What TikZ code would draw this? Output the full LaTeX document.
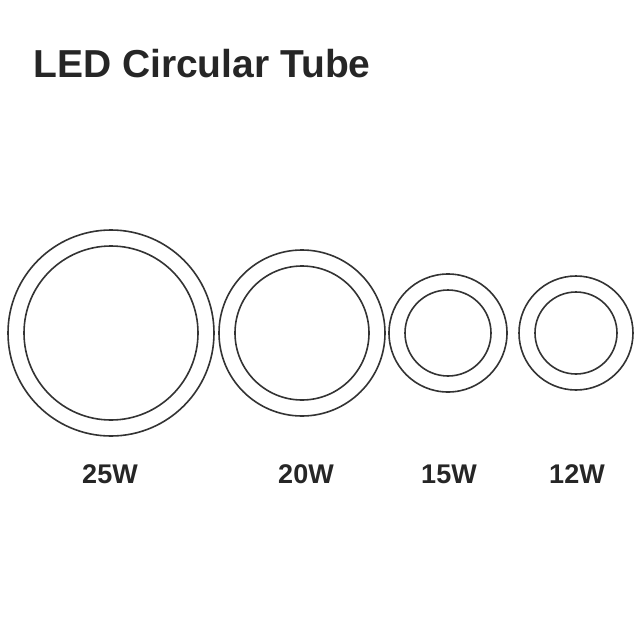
\documentclass[tikz,border=0pt]{standalone}
\usepackage{fontspec}
\setmainfont{Liberation Sans}
\begin{document}
\begin{tikzpicture}[x=1pt,y=-1pt,
  ring/.style={draw=black!80, line width=1.6pt},
  lbl/.style={font=\bfseries\fontsize{27}{30}\selectfont, text=black!85, inner sep=0pt}]
\useasboundingbox (0,0) rectangle (640,640);
\node[anchor=west, inner sep=0pt, font=\bfseries\fontsize{39}{44}\selectfont, text=black!85] (title) at (33,64) {LED Circular Tube};
\foreach \n/\x/\R/\r in {a/111/103/87, b/302/83/67, c/448/59/43, d/576/57/41}{
  \draw[ring] (\x,333) circle (\R);
  \draw[ring] (\x,333) circle (\r);
}
\node[lbl] (l25) at (110,474) {25W};
\node[lbl] (l20) at (306,474) {20W};
\node[lbl] (l15) at (449,474) {15W};
\node[lbl] (l12) at (577,474) {12W};
\end{tikzpicture}
\end{document}
